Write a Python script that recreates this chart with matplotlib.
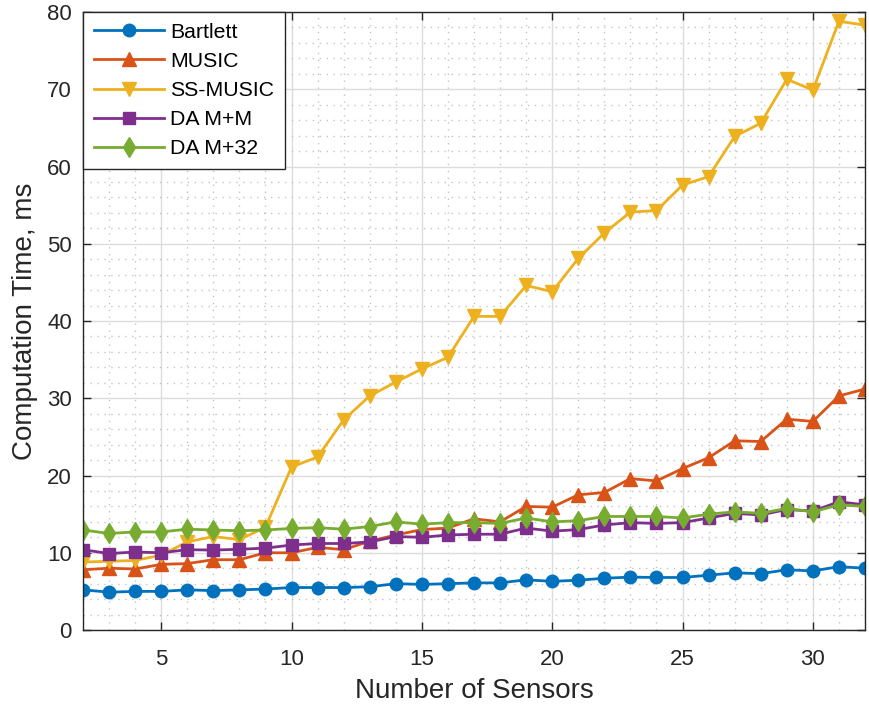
import matplotlib
matplotlib.use("Agg")
import matplotlib.pyplot as plt
from matplotlib.ticker import MultipleLocator

plt.rcParams['font.family'] = ['Liberation Sans', 'DejaVu Sans']

# Number of sensors
sensors = list(range(2, 33))

# Computation time (ms) per method
bartlett = [5.2, 4.9, 5.0, 5.0, 5.2, 5.1, 5.2, 5.3, 5.5, 5.5, 5.5, 5.6, 6.0, 5.9, 6.0,
            6.1, 6.1, 6.5, 6.3, 6.45, 6.7, 6.85, 6.8, 6.8, 7.1, 7.4, 7.3, 7.8, 7.65, 8.2, 8.0]
music = [7.8, 8.0, 7.9, 8.5, 8.6, 9.1, 9.1, 10.0, 10.0, 10.7, 10.4, 11.5, 12.3, 13.0, 13.2,
         14.4, 14.0, 16.0, 15.9, 17.5, 17.8, 19.6, 19.3, 20.9, 22.3, 24.5, 24.4, 27.3, 27.0, 30.3, 31.2]
ss_music = [8.8, 8.9, 9.0, 9.7, 11.4, 12.1, 11.7, 13.3, 21.1, 22.4, 27.2, 30.3, 32.1, 33.8, 35.3,
            40.6, 40.6, 44.6, 43.8, 48.1, 51.4, 54.1, 54.3, 57.6, 58.7, 63.9, 65.6, 71.3, 69.9, 78.8, 78.3]
da_mm = [10.4, 9.9, 10.1, 10.0, 10.4, 10.35, 10.45, 10.6, 11.0, 11.2, 11.2, 11.4, 12.1, 12.0, 12.3,
         12.4, 12.4, 13.2, 12.8, 13.0, 13.6, 13.9, 13.8, 13.9, 14.5, 15.1, 14.9, 15.6, 15.4, 16.6, 16.2]
da_m32 = [12.95, 12.5, 12.7, 12.7, 13.05, 12.95, 12.85, 12.95, 13.15, 13.25, 13.05, 13.4, 14.0, 13.7, 13.9,
          13.9, 13.8, 14.5, 14.0, 14.15, 14.7, 14.7, 14.7, 14.5, 15.0, 15.3, 15.1, 15.75, 15.3, 16.2, 16.0]

series = [
    ("Bartlett", bartlett, "#0072BD", "o", 9),
    ("MUSIC", music, "#D95319", "^", 10),
    ("SS-MUSIC", ss_music, "#EDB120", "v", 10),
    ("DA M+M", da_mm, "#7E2F8E", "s", 8),
    ("DA M+32", da_m32, "#77AC30", "d", 10),
]

fig = plt.figure(figsize=(8.69, 7.11), dpi=100)
ax = fig.add_axes([0.0955, 0.1139, 0.8999, 0.8692])

for name, vals, color, marker, ms in series:
    ax.plot(sensors, vals, color=color, marker=marker, markersize=ms,
            linewidth=2, label=name)

ax.set_xlim(2, 32)
ax.set_ylim(0, 80)
ax.xaxis.set_major_locator(MultipleLocator(5))
ax.xaxis.set_minor_locator(MultipleLocator(1))
ax.yaxis.set_major_locator(MultipleLocator(10))
ax.yaxis.set_minor_locator(MultipleLocator(2))

ax.grid(which='major', color='#dcdcdc', linewidth=1.0, linestyle='-')
ax.grid(which='minor', color='#c4c4c4', linewidth=1.0, linestyle=(0, (1, 4)))
ax.set_axisbelow(True)

ax.tick_params(which='both', direction='in', top=True, right=True,
               colors='#262626', labelsize=16, width=1.0)
ax.tick_params(which='major', length=6)
ax.tick_params(which='minor', length=0)
ax.tick_params(axis='x', pad=13.5)
ax.tick_params(axis='y', pad=8)
for sp in ax.spines.values():
    sp.set_color('#262626')
    sp.set_linewidth(1.0)

ax.set_xlabel("Number of Sensors", fontsize=20, color='#262626', labelpad=6)
ax.set_ylabel("Computation Time, ms", fontsize=20, color='#262626', labelpad=6.5)

leg = ax.legend(loc='upper left', bbox_to_anchor=(0, 1), borderaxespad=0,
                fontsize=15.3, handlelength=3.3, handletextpad=0.3,
                labelspacing=0.48, borderpad=0.5, fancybox=False,
                framealpha=1, edgecolor='#262626')
leg.get_frame().set_linewidth(1.0)

fig.savefig("out.png", dpi=100)
